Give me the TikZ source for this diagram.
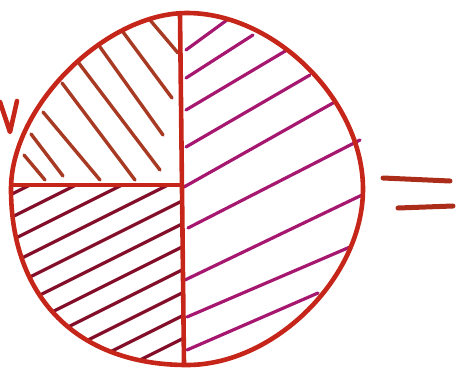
\documentclass[tikz,border=0pt]{standalone}
\definecolor{rim}{RGB}{198,38,26}
\definecolor{hatchA}{RGB}{168,58,36}
\definecolor{hatchB}{RGB}{130,14,42}
\definecolor{hatchC}{RGB}{166,24,112}
\definecolor{eqc}{RGB}{172,44,26}
\begin{document}
\begin{tikzpicture}[x=1pt,y=-1pt,
  rimline/.style={draw=rim,line width=4.6pt,line cap=round,line join=round},
  hatchtl/.style={draw=hatchA,line width=3.4pt,line cap=round},
  hatchbl/.style={draw=hatchB,line width=3.2pt,line cap=round},
  hatchr/.style={draw=hatchC,line width=3.2pt,line cap=round},
  eqline/.style={draw=eqc,line width=5pt,line cap=round}]
\useasboundingbox (0,0) rectangle (456,373);
% bottom-left hatching (clipped to quarter)
\begin{scope}
  \clip (363,189) .. controls (363,101) and (275,13) .. (187,13)
        .. controls (105,13) and (11,107) .. (11,189)
        .. controls (11,298) and (78,365) .. (187,365)
        .. controls (275,365) and (363,277) .. (363,189) -- cycle;
  \clip (0,186) rectangle (182,373);
  \foreach \b in {200,223,...,430} \draw[hatchbl] (0,\b) -- (200,\b-100);
\end{scope}
% top-left hatching
\draw[hatchtl] (150,20) -- (178,53);
\draw[hatchtl] (123,32) -- (172,98);
\draw[hatchtl] (100,47) -- (163,135);
\draw[hatchtl] (78,62) -- (160,170);
\draw[hatchtl] (62,83) -- (135,180);
\draw[hatchtl] (43,112) -- (100,180);
\draw[hatchtl] (31,134) -- (63,176);
\draw[hatchtl] (24,155) -- (45,180);
% right half hatching
\draw[hatchr] (186,50) -- (227,20);
\draw[hatchr] (186,78) -- (253,35);
\draw[hatchr] (186,110) -- (287,50);
\draw[hatchr] (186,147) -- (310,75);
\draw[hatchr] (184,187) -- (333,103);
\draw[hatchr] (188,228) -- (360,140);
\draw[hatchr] (185,280) -- (362,195);
\draw[hatchr] (187,317) -- (350,247);
\draw[hatchr] (187,350) -- (318,293);
% circle and dividers
\draw[rimline] (363,189) .. controls (363,101) and (275,13) .. (187,13)
        .. controls (105,13) and (11,107) .. (11,189)
        .. controls (11,298) and (78,365) .. (187,365)
        .. controls (275,365) and (363,277) .. (363,189) -- cycle;
\draw[rimline] (180,14) -- (184,364);
\draw[rimline] (12,185) -- (182,185);
% stray v at left
\draw[rimline] (0,102) -- (10,132) -- (17,101);
% equals sign
\draw[eqline] (383,178) -- (450,181);
\draw[eqline] (398,208) -- (453,206);
\end{tikzpicture}
\end{document}
